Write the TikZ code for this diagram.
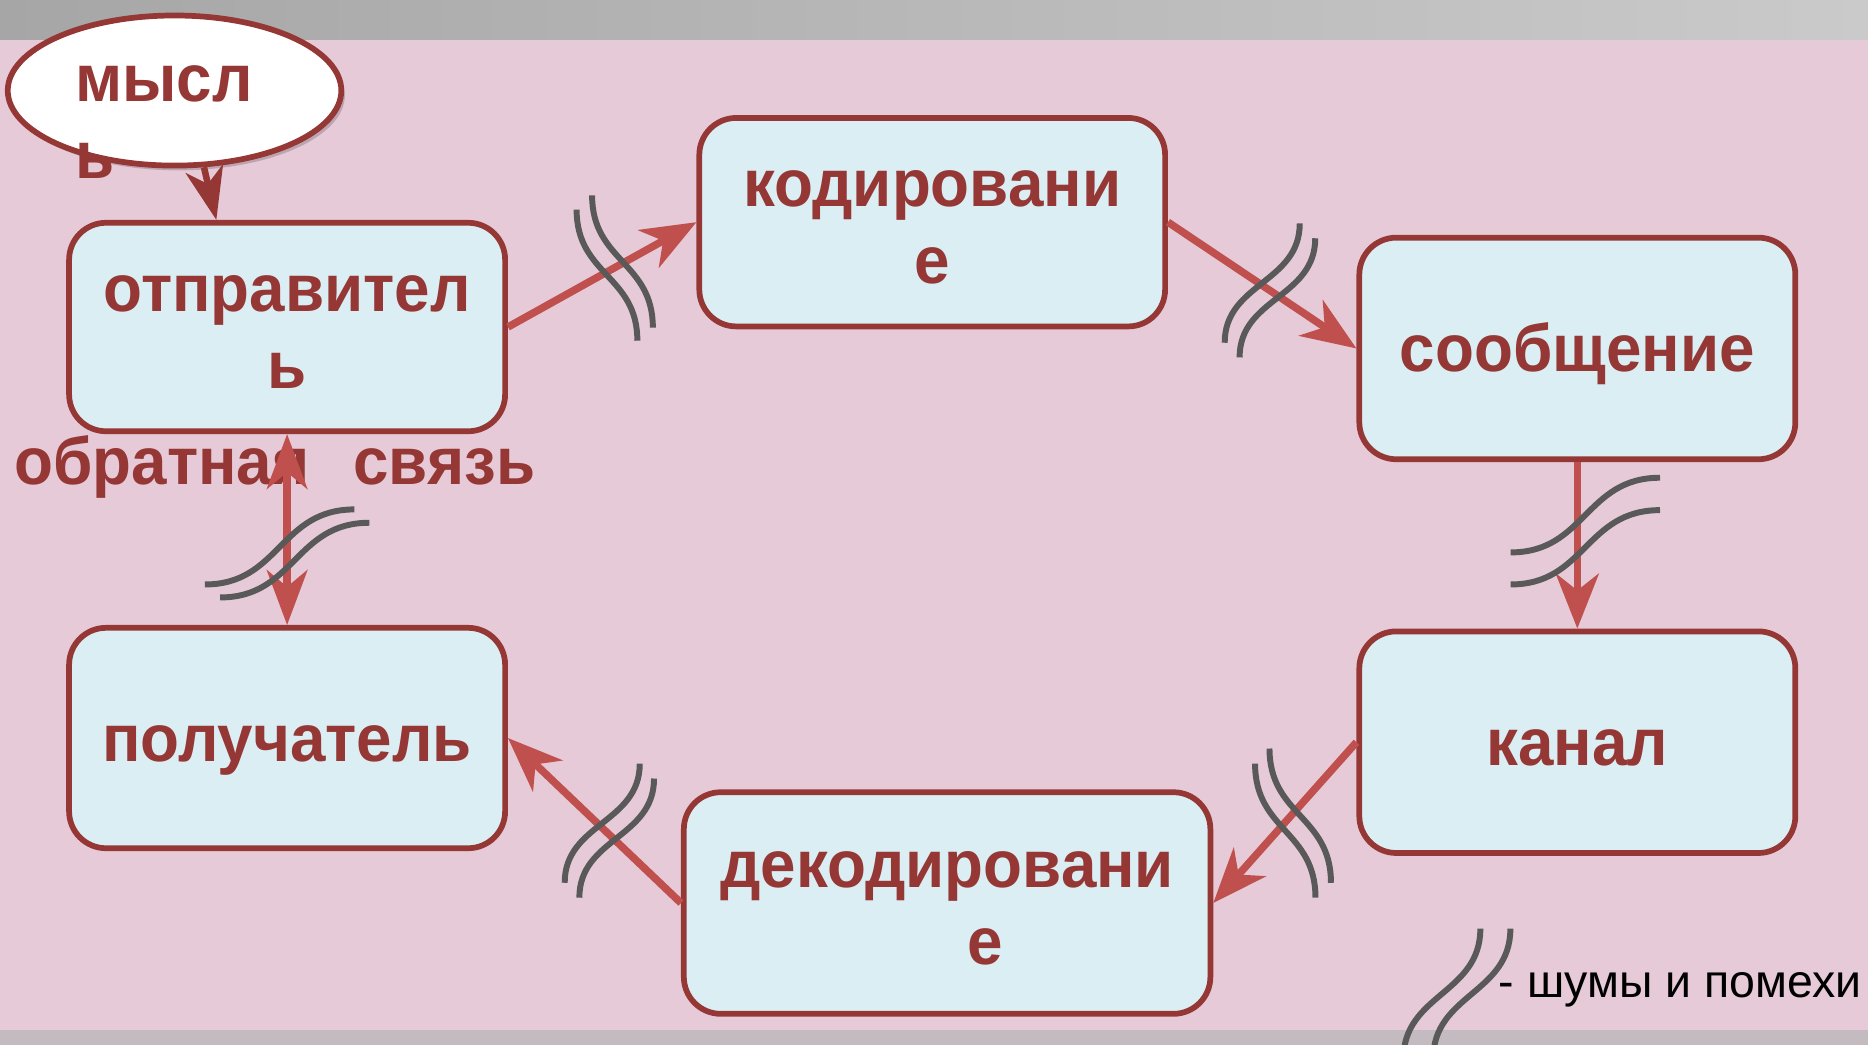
\documentclass[tikz,border=0pt]{standalone}
\usepackage{fontspec}
\setmainfont{Liberation Sans}
\newfontfamily\boxfont[FakeStretch=0.955]{Liberation Sans}
\usetikzlibrary{shapes.geometric,arrows.meta,shadows}
\definecolor{bgpink}{HTML}{E6CAD7}
\definecolor{bandA}{HTML}{A6A6A6}
\definecolor{bandB}{HTML}{CACACA}
\definecolor{bandC}{HTML}{C3BBBF}
\definecolor{boxfill}{HTML}{DAEEF3}
\definecolor{boxline}{HTML}{953735}
\definecolor{arrowred}{HTML}{C0504D}
\definecolor{noisegray}{HTML}{595959}
\newcommand\lnstrut{\vrule width 0pt height 0.905em depth 0.212em\relax}
\begin{document}
\begin{tikzpicture}[x=1pt,y=-1pt,
  box/.style={draw=boxline, line width=4.8pt, fill=boxfill, rounded corners=31pt,
    inner sep=0pt, align=center, text=boxline, font=\boxfont\fontsize{56}{64.4}\selectfont\bfseries},
  redtext/.style={inner sep=0pt, text=boxline, font=\boxfont\fontsize{56}{64.4}\selectfont\bfseries},
  flow/.style={draw=arrowred, line width=6.3pt, -{Stealth[length=46pt,width=36pt,inset=14pt]}},
  twoway/.style={draw=arrowred, line width=6.3pt,
    {Stealth[length=46pt,width=34pt,inset=14pt]}-{Stealth[length=46pt,width=34pt,inset=14pt]}},
  noise/.style={draw=noisegray, line width=5pt}
]
\useasboundingbox (0,0) rectangle (1568,877);
\fill[bgpink] (0,0) rectangle (1568,877);
\shade[left color=bandA, right color=bandB] (0,0) rectangle (1568,33);
\fill[bandC] (0,864.8) rectangle (1568,877);

% thought ellipse
\node[ellipse, draw=boxline, line width=4.8pt, fill=white, minimum width=280pt,
  minimum height=126pt, inner sep=0pt,
  drop shadow={shadow xshift=3pt, shadow yshift=-4pt, opacity=0.18, fill=black}]
  (thought) at (146.5,76) {};
\node[redtext, align=left, anchor=north west] (thoughttxt) at (63,34.3)
  {\lnstrut мысл\\\lnstrut ь};

% boxes
\node[box, minimum width=366pt, minimum height=175pt] (snd) at (241,274.5)
  {\lnstrut отправител\\\lnstrut ь};
\node[box, minimum width=391pt, minimum height=175pt] (kod) at (782.5,186.5)
  {\lnstrut кодировани\\\lnstrut е};
\node[box, minimum width=366pt, minimum height=186pt] (msg) at (1324,292.5)
  {\lnstrut сообщение};
\node[box, minimum width=366pt, minimum height=186pt] (chan) at (1324,623)
  {\lnstrut канал};
\node[box, minimum width=442pt, minimum height=186pt] (dek) at (795,758)
  {\lnstrut декодировани\\\lnstrut\hspace*{64pt}е};
\node[box, minimum width=366pt, minimum height=185pt] (rcv) at (241,619.5)
  {\lnstrut получатель};

\node[redtext, anchor=base west] (fbtxt) at (12,407) {обратная\hspace{37pt}связь};
\node[inner sep=0pt, anchor=base west, font=\fontsize{39}{45}\selectfont] (legend)
  at (1258,837) {- шумы и помехи};

% connectors
\draw[draw=boxline, line width=5.5pt, -{Stealth[length=44pt,width=32pt,inset=13pt]}]
  (thought.-69) -- ([xshift=126pt]snd.north west);
\draw[flow] (snd.east) -- (kod.west);
\draw[flow] (kod.east) -- (msg.west);
\draw[flow] (msg.south) -- (chan.north);
\draw[flow] (chan.west) -- (dek.east);
\draw[flow] (dek.west) -- (rcv.east);
\draw[twoway] (snd.south) -- (rcv.north);

% noise marks
\begin{scope}
\clip (0,0) rectangle (1568,877);
\draw[noise] (484,176) .. controls (484,231) and (535,231) .. (535,286);
\draw[noise] (497,164) .. controls (497,219.5) and (548,219.5) .. (548,275);
\draw[noise] (1091,187.5) .. controls (1091,237.6) and (1028,237.6) .. (1028,287.7);
\draw[noise] (1104,200) .. controls (1104,250) and (1040.5,250) .. (1040.5,300);
\draw[noise] (1268,463.7) .. controls (1330.7,463.7) and (1330.7,401) .. (1393.4,401);
\draw[noise] (1268,490.6) .. controls (1330.7,490.6) and (1330.7,428.2) .. (1393.4,428.2);
\draw[noise] (1065.6,628.3) .. controls (1065.6,684.7) and (1117.2,684.7) .. (1117.2,741);
\draw[noise] (1053.5,641) .. controls (1053.5,697.3) and (1104.2,697.3) .. (1104.2,753.5);
\draw[noise] (537,641) .. controls (537,691) and (474,691) .. (474,741);
\draw[noise] (549,653.5) .. controls (549,703.5) and (486.3,703.5) .. (486.3,753.5);
\draw[noise] (172,490.6) .. controls (234.8,490.6) and (234.8,427.6) .. (297.5,427.6);
\draw[noise] (184.7,501.5) .. controls (247.4,501.5) and (247.4,438.8) .. (310,438.8);
\draw[noise] (1242.6,779.5) .. controls (1242.6,834.3) and (1178,834.3) .. (1178,889);
\draw[noise] (1267.8,779.5) .. controls (1267.8,834.3) and (1203,834.3) .. (1203,889);
\end{scope}
\end{tikzpicture}
\end{document}
